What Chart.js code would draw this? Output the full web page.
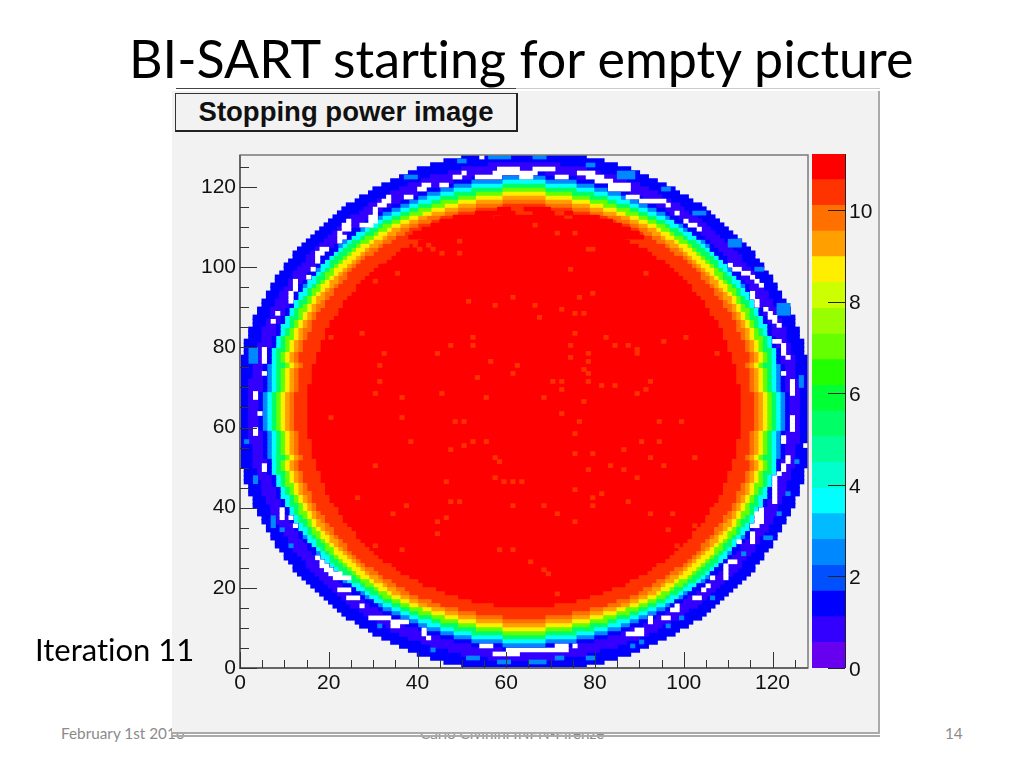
<!DOCTYPE html>
<html>
<head>
<meta charset="utf-8">
<title>BI-SART starting for empty picture</title>
<script src="https://cdn.jsdelivr.net/npm/chart.js@4"></script>
<style>
    html, body { margin: 0; padding: 0; background: #fff; }
    body { width: 1024px; height: 768px; position: relative; overflow: hidden; font-family: Lato, sans-serif; font-variant-ligatures: none; }
    #title { position: absolute; left: 129px; top: 28px; font-size: 52px; line-height: 60px; color: #000; white-space: nowrap; }
    .foot { position: absolute; top: 725px; font-size: 15.3px; line-height: 16px; color: #8b8b8b; white-space: nowrap; }
    #panel { position: absolute; left: 172px; top: 91px; width: 706px; height: 641px; background: #f2f2f2; border-right: 2px solid #aaa; }
    #topline { position: absolute; left: 176px; top: 88px; width: 704px; height: 1px; background: #ccc; }
    #topdark { position: absolute; left: 176px; top: 88px; width: 340px; height: 1px; background: #444; }
    #line1, #line2 { position: absolute; left: 172px; width: 708px; height: 2px; background: #aaa; }
    #line1 { top: 732px; }
    #line2 { top: 735px; }
    #statbox { position: absolute; left: 175px; top: 93px; width: 340px; height: 36px; background: #f2f2f2; border: 1px solid #333;
        border-right: 2px solid #222; border-bottom: 2px solid #222; font: bold 27.5px "Liberation Sans", Arial, sans-serif; line-height: 35px; text-align: center; color: #111; }
    #iter { position: absolute; left: 35px; top: 631px; font-size: 31px; line-height: 36px; color: #000; white-space: nowrap; }
    #heatCanvas { position: absolute; left: 172px; top: 88px; }
    #paletteCanvas { position: absolute; left: 812px; top: 144px; }
</style>
</head>
<body>
<div id="title">BI-SART starting for empty picture</div>
<div class="foot" style="left:61px">February 1st 2016</div>
<div class="foot" style="left:420px">Carlo Civinini INFN-Firenze</div>
<div class="foot" style="left:945px">14</div>
<div id="panel"></div>
<div id="topline"></div>
<div id="topdark"></div>
<div id="line1"></div>
<div id="line2"></div>
<div id="statbox">Stopping power image</div>
<canvas id="heatCanvas" width="708" height="647"></canvas>
<canvas id="paletteCanvas" width="68" height="546"></canvas>
<div id="iter">Iteration 11</div>

<script>
// tick labels
const xTickValues = [0, 20, 40, 60, 80, 100, 120];
const yTickValues = [0, 20, 40, 60, 80, 100, 120];
const xMinorTicks = [5, 10, 15, 25, 30, 35, 45, 50, 55, 65, 70, 75, 85, 90, 95, 105, 110, 115, 125];
const yMinorTicks = [5, 10, 15, 25, 30, 35, 45, 50, 55, 65, 70, 75, 85, 90, 95, 105, 110, 115, 125];
const paletteTicks = [0, 2, 4, 6, 8, 10];

// palette bands, bottom to top
const paletteEdges = [0, 0.56, 1.12, 1.68, 2.24, 2.81, 3.37, 3.93, 4.49, 5.05, 5.61, 6.17, 6.73, 7.29, 7.85, 8.42, 8.98, 9.54, 10.1, 10.66, 11.22];
const paletteColors = ['#6600ee', '#3300ff', '#0000ff', '#0050ff', '#0088ff', '#00bbff', '#00ffff', '#00ffcc', '#00ff99', '#00ff66',
    '#00ff33', '#22ff00', '#66ff00', '#99ff00', '#ccff00', '#ffee00', '#ffa000', '#ff7000', '#ff3300', '#ff0000'];

// palette level of each ring, outside to inside
const ringLevels = [2, 1, 2, 4, 6, 9, 12, 15, 16, 17, 18, 19];

// half width (bins) of each ring per row, counted from the centre row outwards
const ringHalfWidths = [
    [65,62,60,59,58,57,56,55,54,53,52,49],
    [65,62,60,59,58,57,56,55,54,53,52,49],
    [65,62,60,59,58,57,56,55,54,53,52,49],
    [65,62,60,59,58,57,56,55,54,53,52,49],
    [65,62,60,59,58,57,56,55,54,53,52,49],
    [65,62,59,58,57,56,55,54,53,52,51,49],
    [65,62,59,58,57,56,55,54,53,52,51,49],
    [65,62,59,58,57,56,55,54,53,52,51,48],
    [64,61,59,58,57,56,55,54,53,52,51,48],
    [64,61,59,58,57,56,55,54,53,52,51,48],
    [64,61,59,58,57,56,55,54,53,52,51,48],
    [64,61,59,58,57,56,54,53,52,51,50,48],
    [64,61,58,57,57,56,55,54,53,52,51,47],
    [64,61,58,57,57,56,55,54,53,52,51,47],
    [63,60,58,57,57,56,55,54,53,52,51,47],
    [63,60,58,57,57,56,54,53,52,51,50,46],
    [63,60,57,56,56,55,54,53,52,51,50,46],
    [63,59,57,56,56,55,54,53,52,51,50,46],
    [62,59,57,56,56,55,54,52,51,50,49,45],
    [62,59,56,55,55,54,53,52,51,50,49,45],
    [62,59,56,55,55,54,53,52,51,50,48,45],
    [61,58,56,55,55,53,52,51,50,49,48,44],
    [61,58,55,54,54,53,52,51,50,49,48,44],
    [61,57,55,54,54,53,51,50,49,48,47,43],
    [60,57,54,53,53,52,51,50,49,48,47,42],
    [60,57,54,53,53,52,51,49,48,47,46,42],
    [59,56,53,52,52,51,50,49,48,47,45,41],
    [59,56,53,52,52,51,49,48,47,46,45,41],
    [58,55,52,51,51,50,49,48,47,45,44,40],
    [58,55,52,51,51,49,48,47,46,45,43,39],
    [57,54,51,50,50,49,48,46,45,44,43,38],
    [57,53,51,50,49,48,47,46,44,43,42,38],
    [56,53,50,49,49,47,46,45,44,42,41,37],
    [56,52,49,48,48,47,45,44,43,42,40,36],
    [55,52,49,47,47,46,45,43,42,41,40,35],
    [54,51,48,47,46,45,44,43,41,40,39,34],
    [54,50,47,46,46,44,43,42,40,39,38,33],
    [53,49,46,45,45,44,42,41,39,38,37,32],
    [52,49,46,44,44,43,41,40,38,37,36,30],
    [52,48,45,43,43,42,40,39,37,36,34,29],
    [51,47,44,42,42,41,39,38,36,35,33,28],
    [50,46,43,42,41,40,38,37,35,33,32,26],
    [49,45,42,41,40,39,37,35,34,32,30,24],
    [48,44,41,39,39,37,36,34,32,31,29,23],
    [47,43,40,38,38,36,34,33,31,29,27,20],
    [46,42,39,37,36,35,33,31,30,28,26,18],
    [45,41,37,36,35,33,32,30,28,26,24,15],
    [44,40,36,34,34,32,30,28,26,24,21,12],
    [43,39,35,33,32,30,28,26,24,22,19,7],
    [42,37,33,32,30,28,26,23,21,18,15,0],
    [41,36,32,30,28,26,24,21,18,15,11,0],
    [40,35,30,28,26,24,21,18,15,11,5,0],
    [38,33,28,26,24,21,19,15,11,5,0,0],
    [37,31,27,24,22,19,15,11,5,0,0,0],
    [35,30,24,22,19,16,11,5,0,0,0,0],
    [34,28,22,19,16,12,5,0,0,0,0,0],
    [32,26,19,16,12,5,0,0,0,0,0,0],
    [30,23,16,12,5,0,0,0,0,0,0,0],
    [28,21,12,5,0,0,0,0,0,0,0,0],
    [26,17,5,0,0,0,0,0,0,0,0,0],
    [24,14,0,0,0,0,0,0,0,0,0,0],
    [21,8,0,0,0,0,0,0,0,0,0,0],
    [18,0,0,0,0,0,0,0,0,0,0,0],
    [14,0,0,0,0,0,0,0,0,0,0,0]
];

// empty (white) bins inside the outer ring: [row, first bin, last bin]
const emptyBins = [
    [79,5,5],[78,5,5],[77,5,5],[76,5,5],[68,3,3],[67,3,3],[73,5,5],[86,7,7],[88,8,8],
    [96,12,12],[95,12,12],[94,12,12],[93,11,11],[92,11,11],[91,11,11],[97,15,15],[99,16,16],
    [104,18,19],[103,17,18],[102,17,17],[101,17,17],[108,22,22],[107,22,23],[106,22,22],[110,23,24],[109,23,24],[111,24,24],
    [110,27,29],[111,29,30],[112,29,30],[113,30,30],[114,30,30],[115,31,32],[116,32,33],[117,33,33],
    [117,37,38],[119,40,41],[120,41,42],[120,45,46],[122,48,49],[123,50,50],[122,53,58],[123,57,66],[124,58,62],[127,54,54],
    [122,63,65],[124,66,70],[122,71,73],[123,76,79],[122,78,81],[121,80,83],[120,83,87],[119,83,87],
    [117,87,89],[116,90,95],[115,96,96],[113,98,98],[111,100,100],[110,101,102],[109,103,103],
    [100,110,110],[99,111,112],[98,113,114],[97,115,115],[96,116,116],[95,117,117],[93,115,115],[92,115,115],[91,116,116],[90,116,116],
    [89,118,118],[88,119,119],[87,119,120],[86,120,120],[85,121,121],[81,120,121],[80,122,122],[79,122,122],[78,122,122],[77,123,123],
    [73,122,122],[71,124,124],[70,124,124],[69,124,124],[68,124,124],
    [63,4,4],[59,3,3],[58,3,3],[50,5,5],[49,5,5],[39,9,9],[38,9,9],[37,9,9],[37,11,11],[35,12,12],
    [27,17,17],[26,18,18],[25,18,19],[24,19,20],[23,20,22],[22,21,24],[19,22,24],[17,24,26],[15,27,27],
    [12,29,33],[11,34,35],[10,34,35],[11,36,37],[9,41,41],[8,41,41],[7,42,42],[5,54,56],[4,60,73],[3,57,62],
    [5,71,73],[5,75,75],[8,87,90],[9,89,90],[12,92,92],[11,92,92],[12,95,96],[14,97,98],[15,98,98],
    [17,102,103],[19,104,104],[20,105,105],[22,106,106],[25,109,109],[24,109,109],[23,109,109],[22,109,109],[26,110,111],[31,112,112],
    [33,115,115],[32,115,115],[31,115,115],[35,115,116],[36,116,117],[37,116,117],[38,116,117],[39,117,117],
    [47,120,120],[46,120,120],[45,120,120],[44,120,120],[43,120,120],[42,120,120],[41,120,120],[48,121,121],[50,122,122],[49,122,122],[52,123,123],[51,123,123],
    [57,122,122],[56,122,122],[62,124,124],[61,124,124],[60,124,124],[59,124,124],[55,127,127]
];

// paler blue patches along the outer edge: [row, first bin, last bin]
const paleBins = [
    [79,2,3],[78,2,3],[77,2,3],[76,2,3],[122,37,39],[126,49,50],[127,56,60],[127,66,68],[125,78,79],[123,85,88],[122,85,88],
    [119,95,96],[113,102,104],[106,110,112],[105,110,112],[99,116,117],[90,121,123],[89,121,123],[88,121,123],
    [72,126,126],[71,126,126],[70,126,126],[56,1,1],[47,3,3],[46,3,3],[37,7,7],[36,7,7],[35,7,7],[34,9,9],[30,11,11],
    [10,31,31],[4,43,43],[2,51,53],[1,58,60],[1,65,68],[2,71,72],[2,78,79],[5,88,88],[6,90,90],[10,96,96],[12,99,99],
    [17,106,106],[28,113,113],[32,118,119],[38,121,121],[43,123,123],[51,125,125]
];

// red bins reaching into the orange rim at the top of the disc: [row, first bin, last bin]
const redRimBins = [
    [114,58,60],[114,64,69],[113,53,61],[113,66,74],[112,48,56],[112,59,72],[112,75,80],[111,45,60],[111,63,83],
    [110,43,70],[110,73,85],[109,41,87],[108,39,89],[107,38,47],[107,81,90]
];

// isolated lower bins in the red core: [bin, row]
const coreSpecks = [
    [51,91],[57,90],[61,92],[52,82],[52,80],[47,80],[27,83],[20,82],[32,78],[44,78],[31,75],[56,76],[62,75],[61,73],[53,72],[31,71],
    [30,68],[45,68],[36,67],[55,67],[49,103],[45,103],[43,104],[40,104],[39,105],[42,105],[49,106],[35,98],[30,96],[26,98],[32,101],
    [78,104],[79,104],[74,99],[91,98],[79,93],[76,92],[72,89],[66,90],[67,87],[75,88],[77,88],[75,83],[82,82],[84,80],[95,81],[100,82],
    [74,80],[87,80],[89,79],[89,78],[74,77],[78,78],[78,76],[77,74],[78,73],[107,78],[70,71],[72,71],[78,71],[92,71],[84,70],[72,69],
    [81,70],[91,69],[89,68],[68,67],[77,66],[71,108],[75,108],[71,113],[72,113],[66,110],[113,73],
    [20,62],[36,62],[48,61],[50,61],[38,56],[47,54],[50,55],[52,56],[55,56],[57,52],[30,50],[58,51],[57,47],[46,46],[59,46],[61,46],
    [26,42],[49,41],[47,41],[37,40],[61,40],[34,38],[46,37],[44,36],[44,33],[58,29],[61,29],[30,30],[36,29],
    [72,63],[99,61],[76,61],[94,61],[75,58],[90,56],[94,56],[86,54],[75,53],[79,53],[92,52],[102,52],[78,49],[83,50],[86,49],[95,50],
    [89,47],[75,44],[81,43],[79,42],[87,41],[68,40],[79,40],[92,38],[97,38],[71,38],[75,36],[102,35],[96,34],[98,30],[65,26],[68,24],[69,23],[71,18],[63,46]
];

// collect the rows into one floating bar list per palette level
const levelSpans = paletteColors.map(() => []);
function addRing(row, from, to, level) {
    levelSpans[level].push({ y: row + 0.5, x: [from, to] });
}
ringHalfWidths.forEach((widths, k) => {
    [64 + k, 63 - k].forEach(row => {
        widths.forEach((outer, i) => {
            const inner = i + 1 < widths.length ? widths[i + 1] : 0;
            if (outer <= inner) return;
            if (inner === 0) {
                addRing(row, 64 - outer, 64 + outer, ringLevels[i]);
            } else {
                addRing(row, 64 - outer, 64 - inner, ringLevels[i]);
                addRing(row, 64 + inner, 64 + outer, ringLevels[i]);
            }
        });
    });
});

function cellBar(y, x0, x1) {
    return { y: y + 0.5, x: [x0, x1 + 1] };
}

// first dataset is painted last, so the single bins go first
const heatDatasets = [
    { label: 'empty', data: emptyBins.map(b => cellBar(b[0], b[1], b[2])), backgroundColor: '#ffffff' },
    { label: 'specks', data: coreSpecks.map(b => cellBar(b[1], b[0], b[0])), backgroundColor: paletteColors[18] },
    { label: 'red rim', data: redRimBins.map(b => cellBar(b[0], b[1], b[2])), backgroundColor: paletteColors[19] },
    { label: 'pale', data: paleBins.map(b => cellBar(b[0], b[1], b[2])), backgroundColor: paletteColors[4] }
];
paletteColors.forEach((color, level) => {
    if (levelSpans[level].length) {
        // a bit of overlap hides the seams between the rows
        heatDatasets.push({ label: 'level ' + level, data: levelSpans[level], backgroundColor: color, inflateAmount: 0.7 });
    }
});

const tickFont = { family: '"Liberation Sans", Arial, sans-serif', size: 21 };

// frame and inward ticks, placed with the chart's own scales
const heatFrame = {
    id: 'heatFrame',
    afterDatasetsDraw(chart) {
        const { ctx, chartArea: a, scales: { x, y } } = chart;
        ctx.save();
        ctx.strokeStyle = '#7a7a7a';
        ctx.lineWidth = 1.5;
        ctx.strokeRect(a.left, a.top, a.right - a.left, a.bottom - a.top);
        ctx.lineWidth = 2;
        ctx.strokeStyle = '#666';
        ctx.beginPath();
        ctx.moveTo(a.left, a.top);
        ctx.lineTo(a.left, a.bottom);
        ctx.lineTo(a.right, a.bottom);
        ctx.stroke();
        ctx.strokeStyle = '#333';
        ctx.lineWidth = 1;
        const mark = (values, len, scale) => values.forEach(v => {
            const p = Math.round(scale.getPixelForValue(v)) + 0.5;
            ctx.beginPath();
            if (scale === x) {
                ctx.moveTo(p, a.bottom);
                ctx.lineTo(p, a.bottom - len);
            } else {
                ctx.moveTo(a.left, p);
                ctx.lineTo(a.left + len, p);
            }
            ctx.stroke();
        });
        mark(xTickValues, 16, x);
        mark(xMinorTicks, 8, x);
        mark(yTickValues, 17, y);
        mark(yMinorTicks, 9, y);
        ctx.restore();
    }
};

new Chart(document.getElementById('heatCanvas'), {
    type: 'bar',
    data: { datasets: heatDatasets },
    options: {
        indexAxis: 'y',
        responsive: false,
        animation: false,
        grouped: false,
        barPercentage: 1,
        categoryPercentage: 1,
        layout: { padding: { left: 18, right: 72, top: 67, bottom: 37 } },
        plugins: { legend: { display: false }, tooltip: { enabled: false } },
        scales: {
            x: {
                type: 'linear', min: 0, max: 128,
                grid: { display: false, drawTicks: false }, border: { display: false },
                afterBuildTicks: s => { s.ticks = xTickValues.map(v => ({ value: v })); },
                afterFit: s => { s.height = 30; s.paddingLeft = 0; s.paddingRight = 0; },
                ticks: { font: tickFont, color: '#111', padding: 3, maxRotation: 0, autoSkip: false }
            },
            y: {
                type: 'linear', min: 0, max: 128, offset: false,
                grid: { display: false, drawTicks: false }, border: { display: false },
                afterBuildTicks: s => { s.ticks = yTickValues.map(v => ({ value: v })); },
                afterFit: s => { s.width = 50; s.paddingTop = 0; s.paddingBottom = 0; },
                ticks: { font: tickFont, color: '#111', padding: 4, autoSkip: false }
            }
        }
    },
    plugins: [heatFrame]
});

// colour scale on the right
const paletteFrame = {
    id: 'paletteFrame',
    afterDatasetsDraw(chart) {
        const { ctx, chartArea: a, scales: { y } } = chart;
        ctx.save();
        ctx.strokeStyle = '#222';
        ctx.lineWidth = 1;
        ctx.beginPath();
        ctx.moveTo(a.right + 0.5, a.top);
        ctx.lineTo(a.right + 0.5, a.bottom);
        paletteTicks.forEach(v => {
            const p = Math.round(y.getPixelForValue(v)) + 0.5;
            ctx.moveTo(a.right, p);
            ctx.lineTo(a.right - 17, p);
        });
        ctx.stroke();
        ctx.restore();
    }
};

new Chart(document.getElementById('paletteCanvas'), {
    type: 'bar',
    data: {
        labels: ['z'],
        datasets: paletteColors.map((color, i) => ({
            label: 'band ' + i,
            data: [[paletteEdges[i], paletteEdges[i + 1]]],
            backgroundColor: color
        }))
    },
    options: {
        responsive: false,
        animation: false,
        grouped: false,
        barPercentage: 1,
        categoryPercentage: 1,
        layout: { padding: { left: 0, right: 0, top: 10, bottom: 22 } },
        plugins: { legend: { display: false }, tooltip: { enabled: false } },
        scales: {
            x: { display: false },
            y: {
                position: 'right', min: 0, max: 11.22,
                grid: { display: false, drawTicks: false }, border: { display: false },
                afterBuildTicks: s => { s.ticks = paletteTicks.map(v => ({ value: v })); },
                afterFit: s => { s.width = 35; s.paddingTop = 0; s.paddingBottom = 0; },
                ticks: { font: tickFont, color: '#111', padding: 4, labelOffset: 2, autoSkip: false }
            }
        }
    },
    plugins: [paletteFrame]
});
</script>
</body>
</html>
